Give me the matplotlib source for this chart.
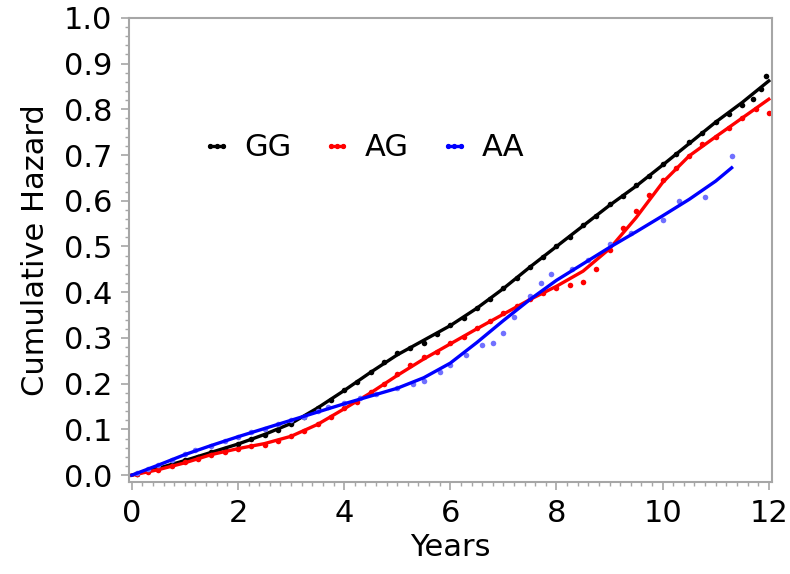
import matplotlib
matplotlib.use("Agg")
import matplotlib.pyplot as plt
from matplotlib.lines import Line2D
from matplotlib.ticker import MultipleLocator, FormatStrFormatter

# smoothed curves
gg_t = [0, 0.5, 1, 1.5, 2, 2.5, 3, 3.5, 4, 4.5, 5, 5.5, 6, 6.5, 7, 7.5, 8, 8.5,
        9, 9.5, 10, 10.5, 11, 11.5, 12]
gg_v = [0, 0.015, 0.032, 0.05, 0.068, 0.089, 0.113, 0.147, 0.185, 0.225, 0.263,
        0.295, 0.327, 0.365, 0.408, 0.455, 0.5, 0.545, 0.59, 0.632, 0.678, 0.725,
        0.772, 0.815, 0.862]

ag_t = gg_t
ag_v = [0, 0.012, 0.027, 0.045, 0.058, 0.069, 0.085, 0.111, 0.145, 0.18, 0.218,
        0.254, 0.287, 0.32, 0.352, 0.384, 0.413, 0.446, 0.495, 0.563, 0.64, 0.698,
        0.74, 0.781, 0.822]

aa_t = [0, 0.5, 1, 1.5, 2, 2.5, 3, 3.5, 4, 4.5, 5, 5.5, 6, 6.5, 7, 7.5, 8, 8.5,
        9, 9.5, 10, 10.5, 11, 11.3]
aa_v = [0, 0.022, 0.045, 0.065, 0.084, 0.102, 0.12, 0.138, 0.156, 0.173, 0.19,
        0.213, 0.245, 0.29, 0.338, 0.384, 0.426, 0.462, 0.498, 0.532, 0.567, 0.603,
        0.643, 0.672]

# observed cumulative hazard points
gg_pt_t = [0.1, 0.3, 0.5, 0.75, 1.0, 1.25, 1.5, 1.75, 2.0, 2.25, 2.5, 2.75, 3.0,
           3.25, 3.5, 3.75, 4.0, 4.25, 4.5, 4.75, 5.0, 5.25, 5.5, 5.75, 6.0, 6.25,
           6.5, 6.75, 7.0, 7.25, 7.5, 7.75, 8.0, 8.25, 8.5, 8.75, 9.0, 9.25, 9.5,
           9.75, 10.0, 10.25, 10.5, 10.75, 11.0, 11.25, 11.5, 11.7, 11.85, 11.95]
gg_pt_v = [0.003, 0.009, 0.016, 0.024, 0.033, 0.04, 0.05, 0.058, 0.068, 0.078,
           0.088, 0.098, 0.112, 0.128, 0.146, 0.165, 0.186, 0.204, 0.225, 0.247,
           0.268, 0.278, 0.29, 0.308, 0.328, 0.344, 0.366, 0.386, 0.41, 0.432,
           0.456, 0.476, 0.502, 0.52, 0.546, 0.566, 0.592, 0.61, 0.634, 0.654,
           0.68, 0.702, 0.728, 0.748, 0.772, 0.79, 0.81, 0.822, 0.845, 0.872]

ag_pt_t = [0.1, 0.3, 0.5, 0.75, 1.0, 1.25, 1.5, 1.75, 2.0, 2.25, 2.5, 2.75, 3.0,
           3.25, 3.5, 3.75, 4.0, 4.25, 4.5, 4.75, 5.0, 5.25, 5.5, 5.75, 6.0, 6.25,
           6.5, 6.75, 7.0, 7.25, 7.5, 7.75, 8.0, 8.25, 8.5, 8.75, 9.0, 9.25, 9.5,
           9.75, 10.0, 10.25, 10.5, 10.75, 11.0, 11.25, 11.5, 11.75, 12.0]
ag_pt_v = [0.003, 0.007, 0.012, 0.02, 0.028, 0.036, 0.045, 0.05, 0.057, 0.063,
           0.067, 0.074, 0.085, 0.097, 0.112, 0.128, 0.146, 0.16, 0.182, 0.2,
           0.222, 0.24, 0.258, 0.27, 0.29, 0.302, 0.322, 0.336, 0.354, 0.37,
           0.385, 0.398, 0.41, 0.415, 0.422, 0.45, 0.492, 0.54, 0.578, 0.612,
           0.645, 0.672, 0.698, 0.724, 0.74, 0.76, 0.78, 0.8, 0.792]

aa_pt_t = [0.1, 0.3, 0.5, 0.75, 1.0, 1.2, 1.5, 1.75, 2.0, 2.25, 2.5, 2.75, 3.0,
           3.25, 3.5, 3.7, 4.0, 4.3, 4.6, 5.0, 5.3, 5.5, 5.8, 6.0, 6.3, 6.6, 6.8,
           7.0, 7.2, 7.5, 7.7, 7.9, 8.3, 8.6, 9.0, 9.4, 10.0, 10.3, 10.8, 11.3]
aa_pt_v = [0.004, 0.013, 0.023, 0.034, 0.046, 0.056, 0.064, 0.074, 0.084, 0.094,
           0.102, 0.112, 0.12, 0.128, 0.14, 0.148, 0.158, 0.168, 0.178, 0.19,
           0.2, 0.205, 0.225, 0.24, 0.262, 0.285, 0.29, 0.31, 0.345, 0.392,
           0.42, 0.44, 0.45, 0.47, 0.505, 0.53, 0.558, 0.6, 0.608, 0.698]

labels = ["GG", "AG", "AA"]
colors = ["black", "#ff0000", "#0000ff"]
pt_colors = ["black", "#ff0000", "#7070ff"]

plt.rcParams["font.family"] = ["DejaVu Sans"]
plt.rcParams["font.size"] = 22

fig = plt.figure(figsize=(7.9, 5.74), dpi=100)
ax = fig.add_axes([0.163, 0.160, 0.814, 0.809])

series = [(gg_t, gg_v, gg_pt_t, gg_pt_v), (ag_t, ag_v, ag_pt_t, ag_pt_v),
          (aa_t, aa_v, aa_pt_t, aa_pt_v)]
for (t, v, pt, pv), c, pc in zip(series, colors, pt_colors):
    ax.plot(pt, pv, "o", color=pc, markersize=4, markeredgewidth=0)
    ax.plot(t, v, color=c, lw=2.4)

ax.set_xlim(-0.057, 12.057)
ax.set_ylim(-0.0153, 1.0)
ax.xaxis.set_major_locator(MultipleLocator(2))
ax.xaxis.set_minor_locator(MultipleLocator(0.2))
ax.yaxis.set_major_locator(MultipleLocator(0.1))
ax.yaxis.set_minor_locator(MultipleLocator(0.02))
ax.yaxis.set_major_formatter(FormatStrFormatter("%.1f"))

grey = "#a6a6a6"
for s in ax.spines.values():
    s.set_color(grey)
    s.set_linewidth(1.5)
ax.tick_params(which="major", length=6, width=1.2, color=grey, pad=6)
ax.tick_params(which="minor", length=3, width=1.0, color=grey)

ax.set_xlabel("Years", labelpad=4)
ax.set_ylabel("Cumulative Hazard", labelpad=10)

handles = [Line2D([], [], color=c, lw=2.4, marker="o", markersize=2.8)
           for c in colors]
ax.legend(handles, labels, ncol=3, frameon=False, numpoints=3,
          handlelength=1.0, handletextpad=0.4, columnspacing=1.0,
          loc="center left", bbox_to_anchor=(0.07, 0.72))

fig.savefig("out.png", dpi=100)
